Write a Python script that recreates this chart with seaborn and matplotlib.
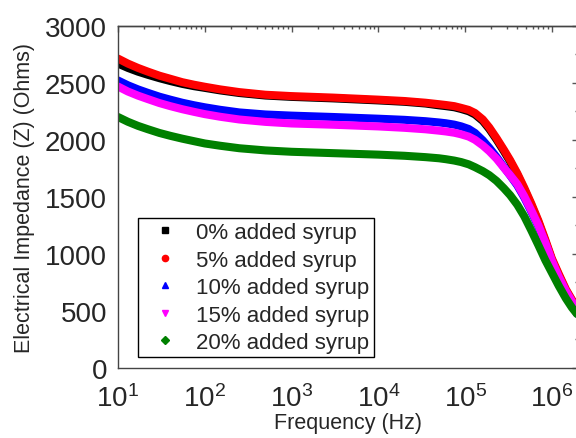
import matplotlib
matplotlib.use("Agg")
import matplotlib.pyplot as plt
import matplotlib.ticker as mticker
from matplotlib.lines import Line2D
import seaborn as sns
import pandas as pd

# frequency points (Hz)
freq = [10, 13, 17, 22, 30, 40, 55, 75, 100, 150, 250, 500, 1e3, 3e3, 1e4, 2e4, 3.5e4,
        5e4, 6e4, 7.5e4, 9e4, 1.1e5, 1.3e5, 1.6e5, 1.9e5, 2.3e5, 2.8e5, 3.3e5,
        4e5, 4.8e5, 5.8e5, 7e5, 8.4e5, 1e6, 1.2e6, 1.45e6, 1.7e6, 2e6]

# impedance (Ohms) per syrup level
z_0 = [2668, 2630, 2597, 2570, 2540, 2515, 2490, 2470, 2455, 2433, 2410, 2388, 2376, 2363, 2345, 2333, 2318,
       2302, 2295, 2285, 2270, 2250, 2222, 2165, 2095, 2003, 1900, 1810,
       1693, 1568, 1428, 1278, 1112, 948, 813, 680, 590, 512]
z_5 = [2712, 2668, 2630, 2598, 2562, 2535, 2505, 2483, 2465, 2442, 2418, 2395, 2383, 2370, 2352, 2340, 2325,
       2312, 2305, 2295, 2280, 2262, 2235, 2178, 2108, 2015, 1912, 1822,
       1705, 1580, 1440, 1290, 1125, 960, 825, 690, 600, 522]
z_10 = [2520, 2478, 2442, 2412, 2378, 2352, 2325, 2303, 2285, 2263, 2240, 2222, 2212, 2200, 2185, 2175, 2163,
        2152, 2145, 2133, 2118, 2095, 2060, 1995, 1930, 1850, 1760, 1688,
        1600, 1495, 1370, 1240, 1085, 925, 780, 650, 560, 460]
z_15 = [2467, 2423, 2387, 2357, 2322, 2295, 2268, 2245, 2225, 2202, 2178, 2157, 2143, 2132, 2117, 2105, 2092,
        2080, 2073, 2062, 2048, 2028, 2000, 1950, 1900, 1835, 1755, 1690,
        1610, 1505, 1380, 1250, 1100, 940, 800, 675, 585, 508]
z_20 = [2200, 2158, 2122, 2093, 2060, 2035, 2010, 1988, 1968, 1948, 1926, 1907, 1895, 1883, 1870, 1860, 1848,
        1838, 1830, 1818, 1805, 1785, 1760, 1725, 1690, 1640, 1575, 1515,
        1430, 1330, 1205, 1075, 945, 835, 720, 610, 530, 462]

labels = ["0% added syrup", "5% added syrup", "10% added syrup",
          "15% added syrup", "20% added syrup"]
colors = ["black", "#ff0000", "#0000ff", "#ff00ff", "#008000"]
markers = ["s", "o", "^", "v", "D"]

df = pd.concat([pd.DataFrame({"freq": freq, "z": z, "series": lab})
                for z, lab in zip([z_0, z_5, z_10, z_15, z_20], labels)])

sns.set_style("white")
plt.rcParams["font.family"] = ["Liberation Sans", "DejaVu Sans"]
plt.rcParams["mathtext.default"] = "regular"

fig = plt.figure(figsize=(5.76, 4.39), dpi=100)
ax = fig.add_axes([118 / 576, 70 / 439, 460 / 576, 342.3 / 439])

sns.lineplot(data=df, x="freq", y="z", hue="series", hue_order=labels,
             palette=colors, linewidth=5.8, legend=False, ax=ax)

ax.set_xscale("log")
ax.set_xlim(10, 2e6)
ax.set_ylim(0, 3000)

xmajor = [1e1, 1e2, 1e3, 1e4, 1e5, 1e6]
ax.xaxis.set_major_locator(mticker.FixedLocator(xmajor))
ax.set_xticklabels([r"$10^{%d}$" % i for i in range(1, 7)])
ax.xaxis.set_minor_locator(mticker.LogLocator(base=10, subs=range(2, 10), numticks=20))
ax.xaxis.set_minor_formatter(mticker.NullFormatter())
ax.yaxis.set_major_locator(mticker.MultipleLocator(500))
ax.yaxis.set_minor_locator(mticker.MultipleLocator(250))

tick_col = "#555555"
ax.tick_params(which="both", direction="out", color=tick_col, width=1)
ax.tick_params(which="major", length=4.5, labelsize=20)
ax.tick_params(which="minor", length=2.5)
ax.tick_params(axis="y", which="major", pad=3.5)
ax.tick_params(axis="x", which="major", pad=7.5)

# mirrored ticks pointing inward on top and right
top = ax.secondary_xaxis("top")
top.xaxis.set_major_locator(mticker.FixedLocator(xmajor))
top.xaxis.set_minor_locator(mticker.LogLocator(base=10, subs=range(2, 10), numticks=20))
top.xaxis.set_major_formatter(mticker.NullFormatter())
top.xaxis.set_minor_formatter(mticker.NullFormatter())
top.tick_params(which="both", direction="in", color=tick_col, width=1)
top.tick_params(which="major", length=4.5)
top.tick_params(which="minor", length=2.5)
right = ax.secondary_yaxis("right")
right.yaxis.set_major_locator(mticker.MultipleLocator(500))
right.yaxis.set_minor_locator(mticker.MultipleLocator(250))
right.yaxis.set_major_formatter(mticker.NullFormatter())
right.tick_params(which="both", direction="in", color=tick_col, width=1)
right.tick_params(which="major", length=4.5)
right.tick_params(which="minor", length=2.5)

for a in (ax, top, right):
    for sp in a.spines.values():
        sp.set_color("#444444")
        sp.set_linewidth(1)

ax.set_xlabel("Frequency (Hz)", fontsize=15.5, labelpad=0)
ax.set_ylabel("Electrical Impedance (Z) (Ohms)", fontsize=15.5, labelpad=7)

handles = [Line2D([], [], marker=m, color=c, linestyle="None", markersize=4.5)
           for m, c in zip(markers, colors)]
leg = ax.legend(handles, labels, loc="lower left", bbox_to_anchor=(0.0435, 0.032),
                borderaxespad=0, fontsize=16, frameon=True, fancybox=False,
                framealpha=1, edgecolor="black", borderpad=0.18, labelspacing=0.29,
                handlelength=2.1, handletextpad=0.35)
leg.get_frame().set_linewidth(1)

plt.savefig("out.png", dpi=100)
